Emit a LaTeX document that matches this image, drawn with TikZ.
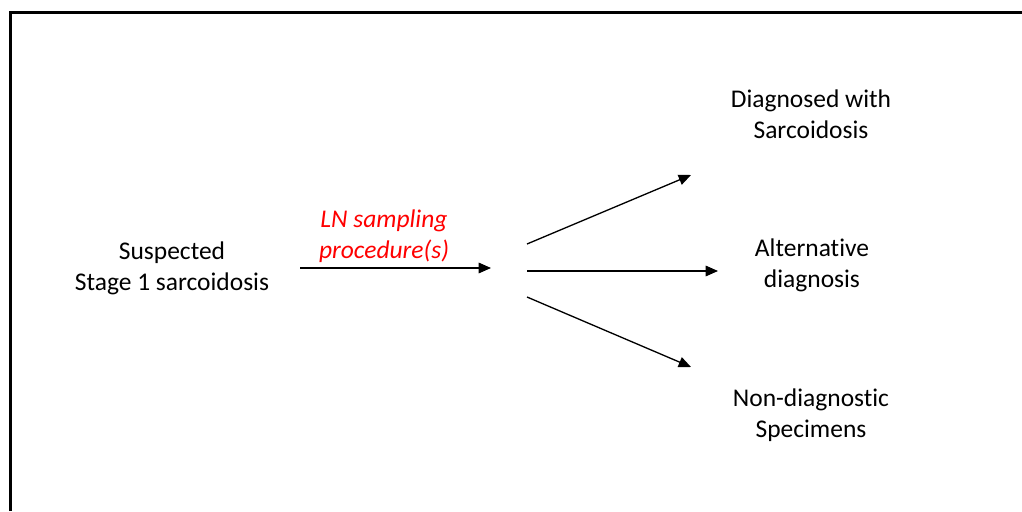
\documentclass[tikz,border=0pt]{standalone}
\usepackage{fontspec}
\setmainfont{Carlito}[RawFeature=-liga]
\usepackage{xcolor}
\usetikzlibrary{arrows.meta,calc}
\tikzset{
  lbl/.style={align=center,font=\fontsize{14.5}{17.6}\selectfont,inner sep=0pt},
  arr/.style={line width=0.75pt,-{Triangle[length=7pt,width=6pt]}}
}

\begin{document}
\begin{tikzpicture}[x=0.02cm,y=-0.02cm]
  \useasboundingbox (0,0) rectangle (1022,511);
  \draw[line width=1.4pt] (10.5,511) -- (10.5,12.5) -- (1022,12.5);
  \node[lbl] (susp) at (172,268) {Suspected\\Stage 1 sarcoidosis};
  \node[lbl,text=red,font=\fontsize{14.5}{17.6}\selectfont\itshape] (samp) at (384,236) {LN sampling\\procedure(s)};
  \node[lbl] (diag) at (811,114) {Diagnosed with\\Sarcoidosis};
  \node[lbl] (alt) at (812,265) {Alternative\\diagnosis};
  \node[lbl] (nond) at (811,415) {Non-diagnostic\\Specimens};
  \coordinate (s0) at (300,268);
  \coordinate (s1) at (491,268);
  \coordinate (hub) at (527,271);
  \coordinate (d0) at (691,175);
  \coordinate (a0) at (718,271);
  \coordinate (n0) at (691,367);
  \draw[arr] (s0) -- (s1);
  \draw[arr] ($(hub)+(0,-27)$) -- (d0);
  \draw[arr] (hub) -- (a0);
  \draw[arr] ($(hub)+(0,26)$) -- (n0);
\end{tikzpicture}
\end{document}
